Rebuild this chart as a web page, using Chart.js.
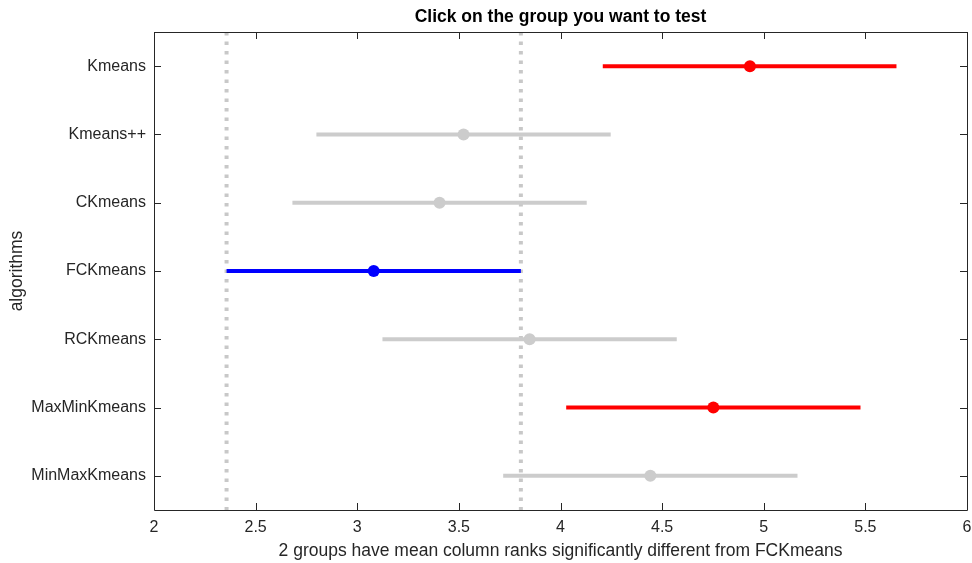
<!DOCTYPE html>
<html>
<head>
<meta charset="utf-8">
<script src="https://cdn.jsdelivr.net/npm/chart.js@4/dist/chart.umd.min.js"></script>
<style>
    html, body { margin: 0; padding: 0; background: #fff; }
    #wrap { width: 972px; height: 563px; }
</style>
</head>
<body>
<div id="wrap"><canvas id="chart"></canvas></div>
<script>
// Data
const groups = ['Kmeans', 'Kmeans++', 'CKmeans', 'FCKmeans', 'RCKmeans', 'MaxMinKmeans', 'MinMaxKmeans'];
const meanRanks = [4.932, 3.523, 3.405, 3.081, 3.848, 4.752, 4.442];
const lowerBounds = [4.208, 2.799, 2.681, 2.357, 3.124, 4.028, 3.718];
const upperBounds = [5.653, 4.247, 4.129, 3.805, 4.572, 5.476, 5.166];
const xTicks = [2, 2.5, 3, 3.5, 4, 4.5, 5, 5.5, 6];
const testedGroup = 3;

const fontFamily = '"Liberation Sans", Arial, Helvetica, sans-serif';
const textColor = '#262626';

function groupColor(i) {
    if (i === testedGroup) return '#0000ff';
    if (lowerBounds[i] > upperBounds[testedGroup] || upperBounds[i] < lowerBounds[testedGroup]) return '#ff0000';
    return '#cccccc';
}

const datasets = groups.map((g, i) => ({
    label: g,
    data: [
        { x: lowerBounds[i], y: i + 1 },
        { x: meanRanks[i], y: i + 1 },
        { x: upperBounds[i], y: i + 1 }
    ],
    borderColor: groupColor(i),
    backgroundColor: groupColor(i),
    borderWidth: 4,
    pointRadius: [0, 6, 0],
    pointBorderWidth: 0,
    pointHoverRadius: [0, 6, 0]
}));

// dotted limits of the tested group
[lowerBounds[testedGroup], upperBounds[testedGroup]].forEach(v => {
    datasets.push({
        label: '',
        data: [{ x: v, y: 0.5 }, { x: v, y: groups.length + 0.5 }],
        borderColor: '#c8c8c8',
        borderWidth: 4,
        borderDash: [3.5, 6],
        pointRadius: 0
    });
});

// axes box with inward ticks, like matlab
const boxPlugin = {
    id: 'box',
    afterDatasetsDraw(chart) {
        const ctx = chart.ctx;
        const a = chart.chartArea;
        const xs = chart.scales.x, ys = chart.scales.y;
        ctx.save();
        ctx.strokeStyle = textColor;
        ctx.lineWidth = 1;
        ctx.beginPath();
        ctx.rect(Math.round(a.left) + 0.5, Math.round(a.top) + 0.5, Math.round(a.right - a.left), Math.round(a.bottom - a.top));
        xTicks.forEach(t => {
            const px = Math.round(xs.getPixelForValue(t)) + 0.5;
            ctx.moveTo(px, a.bottom); ctx.lineTo(px, a.bottom - 7);
            ctx.moveTo(px, a.top); ctx.lineTo(px, a.top + 7);
        });
        groups.forEach((g, i) => {
            const py = Math.round(ys.getPixelForValue(i + 1)) + 0.5;
            ctx.moveTo(a.left, py); ctx.lineTo(a.left + 7, py);
            ctx.moveTo(a.right, py); ctx.lineTo(a.right - 7, py);
        });
        ctx.stroke();
        ctx.restore();
    }
};

new Chart(document.getElementById('chart'), {
    type: 'line',
    data: { datasets: datasets },
    options: {
        responsive: true,
        maintainAspectRatio: false,
        animation: false,
        layout: { padding: { left: 0, right: 0, top: 0, bottom: 0 } },
        plugins: {
            legend: { display: false },
            tooltip: { enabled: false },
            title: {
                display: true,
                fullSize: false,
                text: 'Click on the group you want to test',
                color: '#000',
                font: { family: fontFamily, size: 17.5, weight: 'bold' },
                padding: { top: 7, bottom: 4 }
            }
        },
        scales: {
            x: {
                type: 'linear',
                min: 2,
                max: 6,
                afterBuildTicks: s => { s.ticks = xTicks.map(v => ({ value: v })); },
                afterFit: s => { s.height = 53; s.paddingRight = 5; },
                grid: { display: false, drawTicks: false },
                border: { display: false },
                ticks: {
                    color: textColor,
                    padding: 8,
                    font: { family: fontFamily, size: 16 },
                    callback: v => String(v)
                },
                title: {
                    display: true,
                    text: '2 groups have mean column ranks significantly different from FCKmeans',
                    color: textColor,
                    font: { family: fontFamily, size: 17.5 },
                    padding: { top: 2, bottom: 1 }
                }
            },
            y: {
                type: 'linear',
                reverse: true,
                min: 0.5,
                max: groups.length + 0.5,
                afterBuildTicks: s => { s.ticks = groups.map((g, i) => ({ value: i + 1 })); },
                afterFit: s => { s.width = 154; },
                grid: { display: false, drawTicks: false },
                border: { display: false },
                ticks: {
                    color: textColor,
                    padding: 8,
                    font: { family: fontFamily, size: 16 },
                    callback: v => groups[v - 1]
                },
                title: {
                    display: true,
                    text: 'algorithms',
                    color: textColor,
                    font: { family: fontFamily, size: 17.5 },
                    padding: { top: 7, bottom: 0 }
                }
            }
        }
    },
    plugins: [boxPlugin]
});
</script>
</body>
</html>
